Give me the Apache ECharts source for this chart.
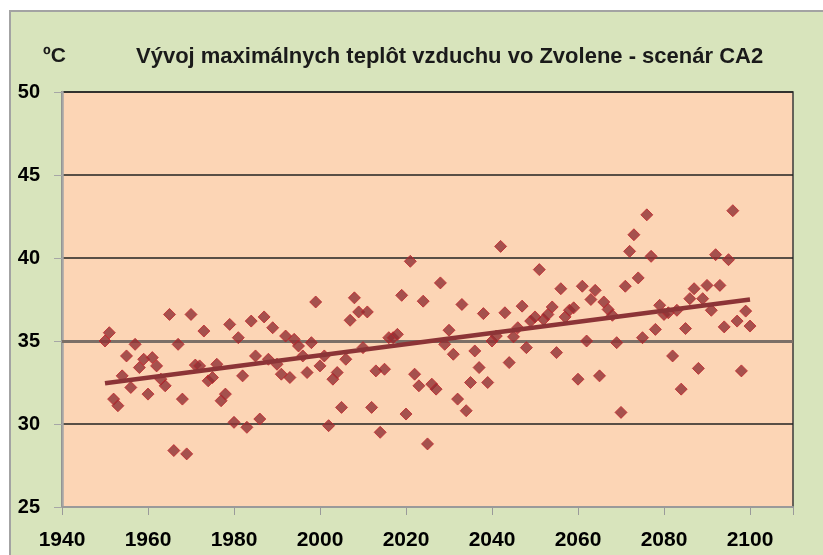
<!DOCTYPE html>
<html>
<head>
<meta charset="utf-8">
<script src="https://cdn.jsdelivr.net/npm/echarts@6/dist/echarts.min.js"></script>
<style>
  html, body { margin: 0; padding: 0; background: #ffffff; }
  #main { width: 823px; height: 555px; }
</style>
</head>
<body>
<div id="main"></div>
<script>
// years of the scenario
var years = [
  1950, 1951, 1952, 1953, 1954, 1955, 1956, 1957, 1958, 1959,
  1960, 1961, 1962, 1963, 1964, 1965, 1966, 1967, 1968, 1969,
  1970, 1971, 1972, 1973, 1974, 1975, 1976, 1977, 1978, 1979,
  1980, 1981, 1982, 1983, 1984, 1985, 1986, 1987, 1988, 1989,
  1990, 1991, 1992, 1993, 1994, 1995, 1996, 1997, 1998, 1999,
  2000, 2001, 2002, 2003, 2004, 2005, 2006, 2007, 2008, 2009,
  2010, 2011, 2012, 2013, 2014, 2015, 2016, 2017, 2018, 2019,
  2020, 2021, 2022, 2023, 2024, 2025, 2026, 2027, 2028, 2029,
  2030, 2031, 2032, 2033, 2034, 2035, 2036, 2037, 2038, 2039,
  2040, 2041, 2042, 2043, 2044, 2045, 2046, 2047, 2048, 2049,
  2050, 2051, 2052, 2053, 2054, 2055, 2056, 2057, 2058, 2059,
  2060, 2061, 2062, 2063, 2064, 2065, 2066, 2067, 2068, 2069,
  2070, 2071, 2072, 2073, 2074, 2075, 2076, 2077, 2078, 2079,
  2080, 2081, 2082, 2083, 2084, 2085, 2086, 2087, 2088, 2089,
  2090, 2091, 2092, 2093, 2094, 2095, 2096, 2097, 2098, 2099,
  2100
];

// yearly maximum air temperature (°C)
var maxTemps = [
  35.0, 35.5, 31.5, 31.1, 32.9, 34.1, 32.2, 34.8, 33.4, 33.9,
  31.8, 34.0, 33.5, 32.7, 32.3, 36.6, 28.4, 34.8, 31.5, 28.2,
  36.6, 33.55, 33.5, 35.6, 32.6, 32.8, 33.6, 31.4, 31.8, 36.0,
  30.1, 35.2, 32.9, 29.8, 36.2, 34.1, 30.3, 36.45, 33.9, 35.8,
  33.6, 33.0, 35.3, 32.8, 35.1, 34.7, 34.1, 33.1, 34.9, 37.35,
  33.5, 34.1, 29.9, 32.7, 33.1, 31.0, 33.9, 36.25, 37.6, 36.75,
  34.6, 36.75, 31.0, 33.2, 29.5, 33.3, 35.2, 35.2, 35.4, 37.75,
  30.6, 39.8, 33.0, 32.3, 37.4, 28.8, 32.4, 32.1, 38.5, 34.8,
  35.65, 34.2, 31.5, 37.2, 30.8, 32.5, 34.4, 33.4, 36.65, 32.5,
  35.0, 35.3, 40.7, 36.7, 33.7, 35.25, 35.8, 37.1, 34.6, 36.2,
  36.45, 39.3, 36.3, 36.6, 37.05, 34.3, 38.15, 36.45, 36.85, 37.0,
  32.7, 38.3, 35.0, 37.5, 38.05, 32.9, 37.35, 36.9, 36.55, 34.9,
  30.7, 38.3, 40.4, 41.4, 38.8, 35.2, 42.6, 40.1, 35.7, 37.15,
  36.6, 36.7, 34.1, 36.85, 32.1, 35.75, 37.55, 38.15, 33.35, 37.55,
  38.35, 36.85, 40.2, 38.35, 35.85, 39.9, 42.85, 36.2, 33.2, 36.8,
  35.9
];

// linear trend, read at its two ends
var trendYears = [1950, 2100];
var trendValues = [32.45, 37.5];

var chartDom = document.getElementById('main');
var myChart = echarts.init(chartDom);

var points = years.map(function (y, i) { return [y, maxTemps[i]]; });
var trend = trendYears.map(function (y, i) { return [y, trendValues[i]]; });

var font = '"Liberation Sans", Arial, sans-serif';

var option = {
    animation: false,
    backgroundColor: '#ffffff',
    graphic: [
        {
            type: 'rect',
            z: -10,
            shape: { x: 10, y: 11, width: 900, height: 600 },
            style: { fill: '#d8e4bc', stroke: '#a3a3a3', lineWidth: 2 }
        }
    ],
    title: [
        {
            text: 'Vývoj maximálnych teplôt vzduchu vo Zvolene - scenár CA2',
            left: 131,
            top: 41,
            textStyle: { fontFamily: font, fontSize: 22, fontWeight: 'bold', color: '#1a1a1a' }
        },
        {
            text: 'ºC',
            left: 38,
            top: 41,
            textStyle: { fontFamily: font, fontSize: 21, fontWeight: 'bold', color: '#1a1a1a' }
        }
    ],
    grid: {
        left: 62,
        right: 30,
        top: 92,
        bottom: 48,
        show: true,
        backgroundColor: '#fcd5b5',
        borderColor: '#3a3a3a',
        borderWidth: 1.5
    },
    xAxis: {
        type: 'value',
        min: 1940,
        max: 2110,
        interval: 20,
        axisLine: { show: true, lineStyle: { color: '#9a9a9a', width: 2 } },
        axisTick: { show: true, length: 8, lineStyle: { color: '#9a9a9a', width: 1 } },
        axisLabel: {
            margin: 23,
            fontFamily: font,
            fontSize: 21,
            fontWeight: 'bold',
            color: '#000000',
            formatter: function (v) { return v > 2100 ? '' : String(v); }
        },
        splitLine: { show: false }
    },
    yAxis: {
        type: 'value',
        min: 25,
        max: 50,
        interval: 5,
        axisLine: { show: true, lineStyle: { color: '#a6a6a6', width: 2.5 } },
        axisTick: { show: true, length: 8, lineStyle: { color: '#a6a6a6', width: 1 } },
        axisLabel: {
            margin: 22,
            fontFamily: font,
            fontSize: 20,
            fontWeight: 'bold',
            color: '#000000'
        },
        splitLine: { show: true, lineStyle: { color: '#222222', width: 1.5 } }
    },
    series: [
        {
            name: 'Tmax',
            type: 'scatter',
            data: points,
            symbol: 'diamond',
            symbolSize: 12,
            z: 3,
            itemStyle: {
                color: '#8f2f33',
                borderColor: '#c0232a',
                borderWidth: 1
            },
            markLine: {
                silent: true,
                symbol: 'none',
                label: { show: false },
                lineStyle: { color: '#7b6f67', width: 3, type: 'solid' },
                data: [{ yAxis: 35 }],
                z: 1
            }
        },
        {
            name: 'Trend',
            type: 'line',
            data: trend,
            symbol: 'none',
            z: 4,
            lineStyle: { color: '#8c3437', width: 4.5 }
        }
    ]
};

option && myChart.setOption(option);
</script>
</body>
</html>
